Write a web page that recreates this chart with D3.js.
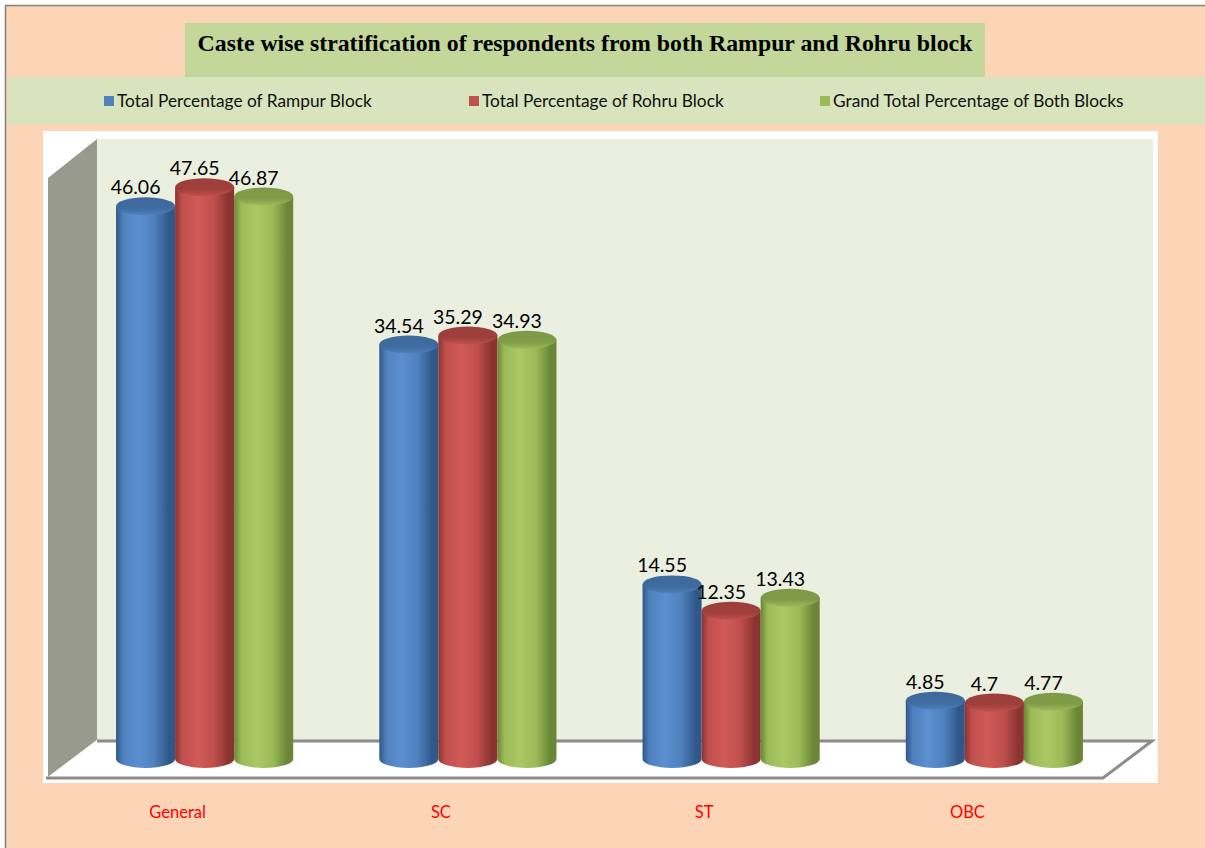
<!DOCTYPE html>
<html><head><meta charset="utf-8">
<script src="https://cdn.jsdelivr.net/npm/d3@7"></script>
<style>html,body{margin:0;padding:0;background:#fff;overflow:hidden}</style>
</head><body>
<svg id="c" width="1205" height="848"></svg>
<script>
const categories = ["General", "SC", "ST", "OBC"];
const seriesNames = ["Total Percentage of Rampur Block", "Total Percentage of Rohru Block", "Grand Total Percentage of Both Blocks"];
const rampur = [46.06, 34.54, 14.55, 4.85];
const rohru = [47.65, 35.29, 12.35, 4.7];
const grandTotal = [46.87, 34.93, 13.43, 4.77];
const valueLabels = [["46.06","34.54","14.55","4.85"],["47.65","35.29","12.35","4.7"],["46.87","34.93","13.43","4.77"]];
const title = "Caste wise stratification of respondents from both Rampur and Rohru block";

const seriesValues = [rampur, rohru, grandTotal];
const colors = [
  {base:"#4F81BD", hi:"#5B8FD0", dark:"#2F5788", top:"#3E6A9E"},
  {base:"#C0504D", hi:"#D05A57", dark:"#8A3331", top:"#9E3F3C"},
  {base:"#9BBB59", hi:"#A8C963", dark:"#6A8636", top:"#7E9B47"}
];

const svg = d3.select("#c");
const defs = svg.append("defs");
colors.forEach((c,i)=>{
  const g = defs.append("linearGradient").attr("id","g"+i).attr("x1","0").attr("x2","1").attr("y1","0").attr("y2","0");
  [[0,c.dark],[0.12,c.base],[0.38,c.hi],[0.65,c.base],[0.9,c.dark],[1,c.dark]].forEach(s=>g.append("stop").attr("offset",s[0]).attr("stop-color",s[1]));
  const t = defs.append("linearGradient").attr("id","t"+i).attr("x1","0").attr("x2","0").attr("y1","0").attr("y2","1");
  [[0,c.top],[0.6,c.top],[1,c.base]].forEach(s=>t.append("stop").attr("offset",s[0]).attr("stop-color",s[1]));
});

// outer frame
svg.append("rect").attr("x",6).attr("y",6).attr("width",1205).attr("height",848).attr("fill","#FBD5B5");
svg.append("line").attr("x1",5).attr("x2",1205).attr("y1",5.5).attr("y2",5.5).attr("stroke","#808080").attr("stroke-width",1.5);
svg.append("line").attr("x1",5.5).attr("x2",5.5).attr("y1",5).attr("y2",848).attr("stroke","#808080").attr("stroke-width",1.5);

// title
svg.append("rect").attr("x",185).attr("y",23).attr("width",800).attr("height",54).attr("fill","#C4D79B");
svg.append("text").attr("x",585).attr("y",51).attr("text-anchor","middle")
  .attr("font-family","'Liberation Serif', 'Times New Roman', serif").attr("font-weight","bold").attr("font-size",23.8)
  .attr("fill","#000").text(title);

// legend band
svg.append("rect").attr("x",8).attr("y",77).attr("width",1197).attr("height",47).attr("fill","#D7E4BD");
const legX = [104, 469, 820];
seriesNames.forEach((n,i)=>{
  svg.append("rect").attr("x",legX[i]).attr("y",96).attr("width",10).attr("height",10).attr("fill",colors[i].base);
  svg.append("text").attr("x",legX[i]+13).attr("y",106.5).attr("font-family","Lato, 'Open Sans', sans-serif")
    .attr("font-size",17.3).attr("fill","#111").text(n);
});

// chart area
svg.append("rect").attr("x",43).attr("y",131).attr("width",1115).attr("height",652).attr("fill","#fff");
// back wall
svg.append("rect").attr("x",97).attr("y",139).attr("width",1056).attr("height",601).attr("fill","#EBEFDF");
// left wall
svg.append("path").attr("d","M48,178 L97,139 L97,740 L48,777 Z").attr("fill","#979A8C");
// floor
svg.append("path").attr("d","M97,740 L1152,740 L1103,777 L48,777 Z").attr("fill","#fff");
svg.append("path").attr("d","M97,741 L1152,741 L1103,778 L46,778").attr("fill","none").attr("stroke","#8C8C8C").attr("stroke-width",3);

// scales
const x0 = d3.scaleBand().domain(categories).range([73,1126]).paddingInner(0.327).paddingOuter(0.1635);
const x1 = d3.scaleBand().domain(d3.range(seriesNames.length)).range([0, x0.bandwidth()]);
const y = d3.scaleLinear().domain([0,50]).range([759,159]);
const ry = 9;

const bars = [];
categories.forEach((cat,ci)=>{
  seriesValues.forEach((vals,si)=>{
    bars.push({cat, ci, si, v: vals[ci], label: valueLabels[si][ci]});
  });
});

const g = svg.append("g");
bars.forEach(b=>{
  const w = x1.bandwidth();
  const cx = x0(b.cat) + x1(b.si) + w/2;
  const rx = w/2;
  const yt = y(b.v), yb = y(0);
  const cyl = g.append("g");
  cyl.append("path")
    .attr("d",`M${cx-rx},${yt} L${cx-rx},${yb} A${rx},${ry} 0 0 0 ${cx+rx},${yb} L${cx+rx},${yt} Z`)
    .attr("fill",`url(#g${b.si})`);
  cyl.append("ellipse").attr("cx",cx).attr("cy",yt).attr("rx",rx).attr("ry",ry).attr("fill",`url(#t${b.si})`);
  g.append("text").attr("x",cx-10).attr("y",yt-ry-3).attr("text-anchor","middle")
    .attr("font-family","Lato, 'Open Sans', sans-serif").attr("font-size",19.5).attr("fill","#000").text(b.label);
});

// category labels
categories.forEach(c=>{
  svg.append("text").attr("x",x0(c)+x0.bandwidth()/2-27).attr("y",818).attr("text-anchor","middle")
    .attr("font-family","Lato, 'Open Sans', sans-serif").attr("font-size",16.5).attr("fill","#FF0000").text(c);
});
</script>
</body></html>
